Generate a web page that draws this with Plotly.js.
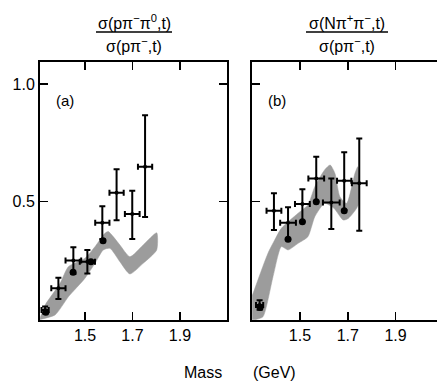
<!DOCTYPE html>
<html>
<head>
<meta charset="utf-8">
<script src="https://cdn.plot.ly/plotly-3.0.1.min.js"></script>
<style>html,body{margin:0;padding:0;background:#fff;}#chart{width:437px;height:385px;}</style>
</head>
<body>
<div id="chart"></div>
<script>
// ---------- Panel (a): sigma(p pi- pi0, t) / sigma(p pi-, t) ----------
const massA    = [1.332, 1.388, 1.451, 1.510, 1.573, 1.633, 1.699, 1.753];
const ratioA   = [0.040, 0.132, 0.250, 0.245, 0.411, 0.538, 0.448, 0.649];
const errUpA   = [0.015, 0.045, 0.057, 0.050, 0.070, 0.100, 0.098, 0.218];
const errDnA   = [0.015, 0.045, 0.057, 0.050, 0.070, 0.117, 0.106, 0.214];
const errMassA = [0.015, 0.030, 0.033, 0.032, 0.030, 0.030, 0.031, 0.030];

// model band (a)
const bandAUpMass = [1.311, 1.332, 1.395, 1.430, 1.500, 1.542, 1.584, 1.598, 1.647, 1.689, 1.745, 1.802];
const bandAUp     = [0.006, 0.061, 0.153, 0.224, 0.260, 0.309, 0.366, 0.373, 0.316, 0.266, 0.316, 0.368];
const bandALoMass = [1.311, 1.374, 1.430, 1.500, 1.542, 1.577, 1.605, 1.647, 1.689, 1.745, 1.802];
const bandALo     = [0.000, 0.019, 0.096, 0.175, 0.238, 0.295, 0.302, 0.245, 0.193, 0.238, 0.295];

// model dots (a)
const modelMassA = [1.335, 1.450, 1.525, 1.576];
const modelA     = [0.030, 0.200, 0.245, 0.334];

// ---------- Panel (b): sigma(N pi+ pi-, t) / sigma(p pi-, t) ----------
const massB    = [1.331, 1.391, 1.450, 1.510, 1.568, 1.631, 1.685, 1.748];
const ratioB   = [0.061, 0.462, 0.411, 0.490, 0.599, 0.497, 0.589, 0.578];
const errUpB   = [0.020, 0.074, 0.065, 0.063, 0.092, 0.102, 0.121, 0.191];
const errDnB   = [0.020, 0.082, 0.071, 0.075, 0.099, 0.113, 0.124, 0.201];
const errMassB = [0.015, 0.031, 0.033, 0.031, 0.033, 0.035, 0.030, 0.031];

// model band (b)
const bandBUpMass = [1.300, 1.366, 1.394, 1.422, 1.492, 1.533, 1.562, 1.603, 1.626, 1.646, 1.667, 1.695, 1.730, 1.742];
const bandBUp     = [0.100, 0.281, 0.337, 0.387, 0.451, 0.486, 0.564, 0.635, 0.656, 0.621, 0.521, 0.493, 0.621, 0.649];
const bandBLoMass = [1.300, 1.316, 1.345, 1.387, 1.422, 1.450, 1.492, 1.533, 1.562, 1.603, 1.642, 1.681, 1.702, 1.744];
const bandBLo     = [0.000, 0.000, 0.011, 0.181, 0.309, 0.295, 0.323, 0.351, 0.436, 0.493, 0.472, 0.422, 0.429, 0.486];

// model dots (b)
const modelMassB = [1.333, 1.450, 1.510, 1.568, 1.685];
const modelB     = [0.050, 0.340, 0.415, 0.500, 0.462];

// ticks
const xTickVals = [1.5, 1.7, 1.9];
const xTickText = ['1.5', '1.7', '1.9'];
const yTickVals = [0.5, 1.0];
const yTickText = ['0.5', '1.0'];

const bandColor = '#9c9c9c';

function band(upM, up, loM, lo, xa, ya) {
  return {
    x: upM.concat(loM.slice().reverse()),
    y: up.concat(lo.slice().reverse()),
    xaxis: xa, yaxis: ya,
    mode: 'lines', fill: 'toself', fillcolor: bandColor,
    line: {color: bandColor, width: 0.5, shape: 'spline', smoothing: 0.6},
    hoverinfo: 'skip'
  };
}
function pts(m, r, up, dn, em, xa, ya) {
  return {
    x: m, y: r, xaxis: xa, yaxis: ya, mode: 'markers',
    marker: {color: '#000', size: 4},
    error_y: {type: 'data', symmetric: false, array: up, arrayminus: dn, color: '#000', thickness: 2, width: 3},
    error_x: {type: 'data', array: em, color: '#000', thickness: 2, width: 3}
  };
}
function dots(m, r, xa, ya) {
  return {x: m, y: r, xaxis: xa, yaxis: ya, mode: 'markers', marker: {color: '#000', size: 7}};
}

const data = [
  band(bandAUpMass, bandAUp, bandALoMass, bandALo, 'x', 'y'),
  band(bandBUpMass, bandBUp, bandBLoMass, bandBLo, 'x2', 'y2'),
  dots(modelMassA, modelA, 'x', 'y'),
  dots(modelMassB, modelB, 'x2', 'y2'),
  pts(massA, ratioA, errUpA, errDnA, errMassA, 'x', 'y'),
  pts(massB, ratioB, errUpB, errDnB, errMassB, 'x2', 'y2')
];

const F = 'Liberation Sans, Arial, sans-serif';
const axCommon = {
  ticks: 'inside', ticklen: 8, tickwidth: 1.5, tickcolor: '#000',
  showline: true, linewidth: 2, linecolor: '#000',
  showgrid: false, zeroline: false, fixedrange: true,
  tickfont: {family: F, size: 16, color: '#000'}
};
const yRange = [-0.0026, 1.0935];

function ann(x, y, text, size) {
  return {xref: 'paper', yref: 'paper', x: x, y: y, xanchor: 'center', yanchor: 'middle',
          text: text, showarrow: false, font: {family: F, size: size, color: '#000'}};
}

const layout = {
  width: 437, height: 385,
  margin: {l: 40, r: 0, t: 62, b: 65, pad: 0},
  paper_bgcolor: '#fff', plot_bgcolor: '#fff',
  showlegend: false,
  font: {family: F, color: '#000', size: 16},
  xaxis: Object.assign({}, axCommon, {domain: [0, 0.471], range: [1.3105, 2.098], tickmode: 'array', tickvals: xTickVals, ticktext: xTickText, mirror: 'ticks', anchor: 'y'}),
  yaxis: Object.assign({}, axCommon, {domain: [0, 1], range: yRange, tickmode: 'array', tickvals: yTickVals, ticktext: yTickText, mirror: 'ticks', anchor: 'x'}),
  xaxis2: Object.assign({}, axCommon, {domain: [0.534, 1], range: [1.2992, 2.0732], tickmode: 'array', tickvals: xTickVals, ticktext: xTickText, mirror: 'ticks', anchor: 'y2'}),
  yaxis2: Object.assign({}, axCommon, {domain: [0, 1], range: yRange, tickmode: 'array', tickvals: yTickVals, showticklabels: false, mirror: false, anchor: 'x2'}),
  annotations: [
    ann(0.2368, 1.1562, 'σ(pπ<sup>−</sup>π<sup>0</sup>,t)', 16),
    ann(0.2368, 1.0659, 'σ(pπ<sup>−</sup>,t)', 16),
    ann(0.7733, 1.1562, 'σ(Nπ<sup>+</sup>π<sup>−</sup>,t)', 16),
    ann(0.7733, 1.0659, 'σ(pπ<sup>−</sup>,t)', 16),
    ann(0.063, 0.8527, '(a)', 15),
    ann(0.597, 0.8527, '(b)', 15),
    ann(0.4106, -0.2054, 'Mass', 16),
    ann(0.5907, -0.2054, '(GeV)', 16)
  ],
  shapes: [
    {type: 'line', xref: 'paper', yref: 'paper', x0: 0.141, x1: 0.3325, y0: 1.1163, y1: 1.1163, line: {color: '#000', width: 1.5}},
    {type: 'line', xref: 'paper', yref: 'paper', x0: 0.670, x1: 0.8766, y0: 1.1163, y1: 1.1163, line: {color: '#000', width: 1.5}}
  ]
};

Plotly.newPlot('chart', data, layout, {staticPlot: true, displayModeBar: false});
</script>
</body>
</html>
